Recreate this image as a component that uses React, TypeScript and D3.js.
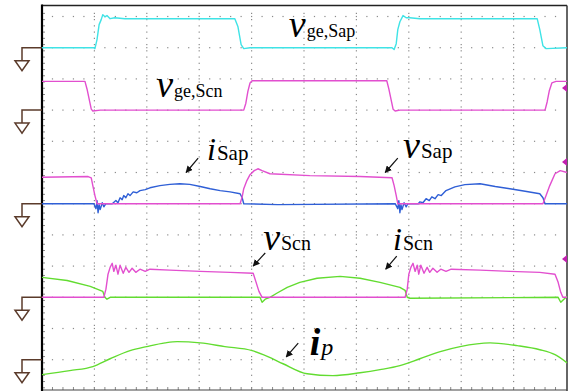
import React, {useRef, useEffect} from "react";
import * as d3 from "d3";

type Pt = [number, number];

// time in screen divisions (0..10), level in divisions above the channel's ground
const vgeSap: Pt[] = [
    [0, 0], [0.99, 0], [1.01, -0.03], [1.05, 0.26], [1.09, 0.74], [1.13, 0.90], [1.16, 1.06], [1.20, 0.99],
    [1.24, 1.03], [1.30, 0.93], [1.39, 0.96], [1.58, 0.93], [2.06, 0.93], [3.68, 0.93], [3.74, 0.67], [3.80, 0.10],
    [3.85, -0.03], [3.97, 0], [6.68, 0], [6.72, -0.06], [6.76, 0.13], [6.79, 0.58], [6.83, 0.83], [6.89, 1.03],
    [6.95, 0.96], [7.02, 0.96], [7.21, 0.93], [9.45, 0.93], [9.50, 0.58], [9.56, 0.06], [9.62, -0.03], [10.02, 0],
];

const vgeScn: Pt[] = [
    [0, 0.92], [0.82, 0.92], [0.86, 0.67], [0.90, 0.35], [0.94, 0.03], [0.97, -0.03], [1.11, 0], [3.85, 0],
    [3.89, 0.22], [3.93, 0.61], [3.97, 0.87], [4.01, 0.94], [4.16, 0.94], [6.58, 0.94], [6.62, 0.67], [6.66, 0.35],
    [6.70, 0.03], [6.74, -0.03], [6.83, 0], [9.60, 0], [9.64, 0.26], [9.68, 0.61], [9.73, 0.87], [9.81, 0.92], [10.02, 0.92],
];

const iSap: Pt[] = [
    [0, 0], [0.99, 0], [1.03, -0.16], [1.05, 0.10], [1.07, -0.29], [1.09, -0.03], [1.11, -0.19], [1.15, 0.03],
    [1.18, -0.10], [1.22, 0], [1.34, 0], [1.41, 0.10], [1.45, 0.03], [1.49, 0.19], [1.53, 0.13], [1.56, 0.26],
    [1.60, 0.19], [1.64, 0.32], [1.68, 0.26], [1.74, 0.38], [1.81, 0.35], [1.87, 0.42], [1.97, 0.45], [2.06, 0.51],
    [2.25, 0.58], [2.44, 0.62], [2.63, 0.64], [2.82, 0.62], [3.02, 0.55], [3.21, 0.48], [3.40, 0.42], [3.59, 0.38],
    [3.78, 0.32], [3.82, 0.19], [3.85, 0], [4.5, -0.03], [6.74, 0], [6.79, -0.16], [6.81, 0.10], [6.83, -0.29],
    [6.85, -0.03], [6.87, -0.19], [6.91, 0.03], [6.95, -0.10], [6.98, 0], [7.18, 0], [7.21, 0.06], [7.27, 0.03],
    [7.33, 0.16], [7.39, 0.10], [7.44, 0.22], [7.50, 0.16], [7.56, 0.29], [7.62, 0.26], [7.71, 0.42], [7.88, 0.54],
    [8.07, 0.61], [8.36, 0.64], [8.65, 0.55], [8.93, 0.48], [9.22, 0.40], [9.50, 0.32], [9.56, 0.19], [9.60, 0], [10.02, 0],
];

const vSap: Pt[] = [
    [0, 0.85], [0.88, 0.87], [0.94, 0.83], [0.97, 0.58], [1.01, 0.26], [1.05, 0], [1.11, 0], [3.78, 0],
    [3.82, 0.22], [3.85, 0.48], [3.91, 0.74], [3.97, 0.93], [4.05, 1.06], [4.12, 1.12], [4.20, 1.06], [4.35, 0.96],
    [5.11, 0.90], [6.07, 0.87], [6.68, 0.83], [6.72, 0.58], [6.76, 0.26], [6.79, 0], [6.83, 0], [9.56, 0],
    [9.62, 0.26], [9.69, 0.58], [9.79, 0.96], [9.89, 1.06], [10.02, 1.00],
];

const vScn: Pt[] = [
    [0, 0], [1.18, 0], [1.22, 0.26], [1.26, 0.74], [1.30, 0.96], [1.34, 1.09], [1.37, 0.83], [1.41, 1.03],
    [1.45, 0.74], [1.49, 1.03], [1.55, 0.77], [1.60, 0.96], [1.66, 0.80], [1.72, 0.93], [1.79, 0.80], [1.87, 0.90],
    [1.97, 0.83], [2.06, 0.90], [2.44, 0.87], [3.02, 0.83], [3.59, 0.80], [4.03, 0.77], [4.08, 0.51], [4.14, 0.19],
    [4.20, 0], [6.93, 0], [6.97, 0.26], [7.00, 0.74], [7.04, 0.96], [7.08, 1.09], [7.12, 0.83], [7.16, 1.03],
    [7.19, 0.74], [7.23, 1.03], [7.29, 0.77], [7.35, 0.96], [7.40, 0.80], [7.46, 0.93], [7.54, 0.80], [7.61, 0.90],
    [7.71, 0.83], [7.81, 0.90], [8.36, 0.87], [8.93, 0.83], [9.50, 0.80], [9.79, 0.74], [9.85, 0.48], [9.90, 0.16],
    [9.94, 0], [10.02, 0],
];

const iScn: Pt[] = [
    [0, 0.64], [0.48, 0.54], [0.92, 0.35], [1.16, 0.19], [1.20, 0], [1.24, -0.06], [1.30, 0], [4.16, 0],
    [4.20, -0.16], [4.26, -0.06], [4.35, 0], [4.48, 0.13], [4.68, 0.32], [4.92, 0.48], [5.25, 0.61], [5.69, 0.67],
    [6.07, 0.61], [6.45, 0.48], [6.83, 0.32], [6.93, 0.22], [6.97, 0], [7.02, -0.03], [9.85, 0], [9.90, -0.16],
    [9.96, -0.06], [10.02, 0.03],
];

const ip: Pt[] = [
    [0, -0.48], [0.53, -0.35], [0.97, -0.22], [1.30, 0.03], [1.68, 0.29], [2.00, 0.42], [2.35, 0.54], [2.58, 0.58],
    [3.02, 0.54], [3.49, 0.42], [4.01, 0.29], [4.31, 0.10], [4.60, -0.13], [5.06, -0.45], [5.55, -0.51], [6.07, -0.42],
    [6.45, -0.32], [6.83, -0.19], [7.21, 0.03], [7.60, 0.26], [7.98, 0.42], [8.55, 0.54], [9.07, 0.45], [9.50, 0.32],
    [9.79, 0.16], [10.02, -0.10],
];

// ground levels (division rows counted up from the lowest grid row)
const groundLevels = [10, 8, 5, 2, 0];
// reference markers on the right edge (division rows)
const refMarkers = [8.71, 6.34, 3.23];

const channels = [
    {data: vgeSap, ground: 10, color: "#3fe3e6", smooth: false},
    {data: vgeScn, ground: 8, color: "#e24fcf", smooth: false},
    {data: iSap, ground: 5, color: "#2f5fd6", smooth: false},
    {data: vSap, ground: 5, color: "#e24fcf", smooth: false},
    {data: iScn, ground: 2, color: "#62dc30", smooth: false},
    {data: vScn, ground: 2, color: "#e24fcf", smooth: false},
    {data: ip, ground: 0, color: "#62dc30", smooth: true},
];

const labels = [
    {main: "v", sub: "ge,Sap", t: 4.71, lv: 10.34, size: 38, subSize: 18, subItalic: false, bold: false},
    {main: "v", sub: "ge,Scn", t: 2.18, lv: 8.42, size: 38, subSize: 18, subItalic: false, bold: false},
    {main: "i", sub: "Sap", t: 3.15, lv: 6.40, size: 32, subSize: 21, subItalic: false, bold: false},
    {main: "v", sub: "Sap", t: 6.89, lv: 6.46, size: 38, subSize: 21, subItalic: false, bold: false},
    {main: "v", sub: "Scn", t: 4.22, lv: 3.52, size: 38, subSize: 20, subItalic: false, bold: false},
    {main: "i", sub: "Scn", t: 6.70, lv: 3.52, size: 32, subSize: 20, subItalic: false, bold: false},
    {main: "i", sub: "p", t: 5.11, lv: 0.15, size: 38, subSize: 24, subItalic: true, bold: true},
];

// arrows: [tFrom, lvFrom, tTo, lvTo]
const arrows: [number, number, number, number][] = [
    [2.98, 6.46, 2.75, 6.00],
    [6.79, 6.46, 6.55, 6.00],
    [4.26, 3.42, 4.03, 3.00],
    [6.77, 3.32, 6.56, 2.90],
    [4.89, 0.53, 4.66, 0.09],
];

const W = 573, H = 391;
const left = 42, right = 566, frameTop = 5.5, frameBottom = 390;

const ScopeChart: React.FC = () => {
    const ref = useRef<SVGSVGElement>(null);

    useEffect(() => {
        if (!ref.current) return;
        document.body.style.margin = "0";
        const svg = d3.select(ref.current);
        svg.selectAll("*").remove();

        const x = d3.scaleLinear().domain([0, 10]).range([left, right]);
        const y = d3.scaleLinear().domain([0, 11]).range([359.7, 16.5]);
        const step = 0.2;

        svg.append("rect").attr("width", W).attr("height", H).attr("fill", "#fff");

        // dotted graticule
        const grid = svg.append("g").attr("fill", "#8a8a8a");
        d3.range(0, 12).forEach(k => {
            d3.range(1, 50).forEach(j => {
                grid.append("rect").attr("x", x(j * step) - 0.6).attr("y", y(k) - 0.6)
                    .attr("width", 1.2).attr("height", 1.2);
            });
        });
        const vDots = d3.range(-0.9, 11.3, step);
        d3.range(1, 10).forEach(c => {
            vDots.forEach(v => {
                grid.append("rect").attr("x", x(c) - 0.6).attr("y", y(v) - 0.6)
                    .attr("width", 1.2).attr("height", 1.2);
            });
        });
        // minor ticks on left and bottom edges
        vDots.forEach(v => {
            grid.append("rect").attr("x", left).attr("y", y(v) - 0.5).attr("width", 3).attr("height", 1);
        });
        d3.range(1, 50).forEach(j => {
            grid.append("rect").attr("x", x(j * step) - 0.5).attr("y", frameBottom - 3).attr("width", 1).attr("height", 3);
        });

        // frame
        svg.append("line").attr("x1", left).attr("x2", right + 1).attr("y1", frameTop).attr("y2", frameTop)
            .attr("stroke", "#222").attr("stroke-width", 1.5);
        svg.append("line").attr("x1", right + 1).attr("x2", right + 1).attr("y1", frameTop).attr("y2", H)
            .attr("stroke", "#333").attr("stroke-width", 1.5);
        svg.append("line").attr("x1", left).attr("x2", right + 1).attr("y1", frameBottom).attr("y2", frameBottom)
            .attr("stroke", "#444").attr("stroke-width", 1);
        svg.append("line").attr("x1", left).attr("x2", left).attr("y1", frameTop - 1).attr("y2", H)
            .attr("stroke", "#000").attr("stroke-width", 2.2);

        // traces
        channels.forEach(ch => {
            const line = d3.line<Pt>()
                .x(d => x(d[0]))
                .y(d => y(ch.ground + d[1]))
                .curve(ch.smooth ? d3.curveMonotoneX : d3.curveLinear);
            svg.append("path").datum(ch.data)
                .attr("fill", "none")
                .attr("stroke", ch.color)
                .attr("stroke-width", 1.4)
                .attr("stroke-linejoin", "round")
                .attr("d", line);
        });

        // reference markers
        refMarkers.forEach(lv => {
            const yy = y(lv);
            svg.append("path")
                .attr("d", `M${right - 4},${yy} L${right + 1},${yy - 4} L${right + 1},${yy + 4} Z`)
                .attr("fill", "#c21fb0");
        });

        // ground symbols
        const gnd = svg.append("g").attr("stroke", "#5b3b2b").attr("stroke-width", 1.5).attr("fill", "#fff");
        groundLevels.forEach(lv => {
            const yy = y(lv);
            gnd.append("path").attr("fill", "none")
                .attr("d", `M${left},${yy} H22 V${yy + 13}`);
            gnd.append("path")
                .attr("d", `M15,${yy + 13} H29 L22,${yy + 23} Z`);
        });

        // arrows
        const defs = svg.append("defs");
        defs.append("marker").attr("id", "ah").attr("viewBox", "0 0 10 10")
            .attr("refX", 9).attr("refY", 5).attr("markerWidth", 7).attr("markerHeight", 7)
            .attr("markerUnits", "userSpaceOnUse").attr("orient", "auto")
            .append("path").attr("d", "M0,0 L10,5 L0,10 z").attr("fill", "#111");
        arrows.forEach(a => {
            svg.append("line")
                .attr("x1", x(a[0])).attr("y1", y(a[1]))
                .attr("x2", x(a[2])).attr("y2", y(a[3]))
                .attr("stroke", "#111").attr("stroke-width", 1.2)
                .attr("marker-end", "url(#ah)");
        });

        // labels
        labels.forEach(l => {
            const txt = svg.append("text")
                .attr("x", x(l.t)).attr("y", y(l.lv))
                .attr("font-family", "'Liberation Serif', 'Times New Roman', serif")
                .attr("fill", "#000");
            txt.append("tspan").text(l.main)
                .attr("font-size", l.size)
                .attr("font-style", "italic")
                .attr("font-weight", l.bold ? "bold" : "normal");
            txt.append("tspan").text(l.sub)
                .attr("font-size", l.subSize)
                .attr("dx", 1)
                .attr("font-style", l.subItalic ? "italic" : "normal");
        });
    }, []);

    return <svg ref={ref} width={W} height={H} style={{display: "block"}}/>;
};

export default function App() {
    return <ScopeChart/>;
}
